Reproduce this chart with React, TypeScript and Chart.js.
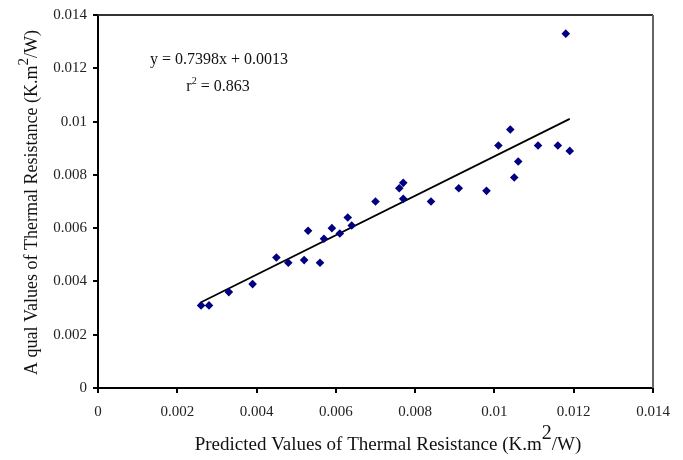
import React, { useEffect, useRef } from "react";
import { Chart, registerables } from "chart.js";

Chart.register(...registerables);

const predicted = [
  0.0026, 0.0028, 0.0033, 0.0039, 0.0045, 0.0048, 0.0052, 0.0056, 0.0053, 0.0057,
  0.0059, 0.0061, 0.0063, 0.0064, 0.0070, 0.0076, 0.0077, 0.0077, 0.0084, 0.0091,
  0.0098, 0.0101, 0.0104, 0.0105, 0.0106, 0.0111, 0.0116, 0.0118, 0.0119,
];
const actual = [
  0.0031, 0.0031, 0.0036, 0.0039, 0.0049, 0.0047, 0.0048, 0.0047, 0.0059, 0.0056,
  0.0060, 0.0058, 0.0064, 0.0061, 0.0070, 0.0075, 0.0077, 0.0071, 0.0070, 0.0075,
  0.0074, 0.0091, 0.0097, 0.0079, 0.0085, 0.0091, 0.0091, 0.0133, 0.0089,
];
const trendX = [0.0026, 0.0119];
const trendY = [0.00322, 0.0101];
const axisMin = 0;
const axisMax = 0.014;
const axisStep = 0.002;

const equationText = "y = 0.7398x + 0.0013";
const rSquaredLabel = ["r", "2", " = 0.863"];
const xTitleParts = ["Predicted Values of Thermal Resistance (K.m", "2", "/W)"];
const yTitleParts = ["A qual Values of Thermal Resistance (K.m", "2", "/W)"];

const FONT = "'Liberation Serif', 'Times New Roman', serif";

type Seg = { t: string; sup?: boolean };

function drawSegs(
  ctx: CanvasRenderingContext2D,
  segs: Seg[],
  cx: number,
  baseline: number,
  size: number,
  supSize: number,
  raise: number
) {
  const widths = segs.map((s) => {
    ctx.font = `${s.sup ? supSize : size}px ${FONT}`;
    return ctx.measureText(s.t).width;
  });
  const total = widths.reduce((a, b) => a + b, 0);
  let x = cx - total / 2;
  ctx.textAlign = "left";
  ctx.textBaseline = "alphabetic";
  segs.forEach((s, i) => {
    ctx.font = `${s.sup ? supSize : size}px ${FONT}`;
    ctx.fillText(s.t, x, s.sup ? baseline - raise : baseline);
    x += widths[i];
  });
}

const decorPlugin = {
  id: "decor",
  afterDraw(chart: any) {
    const ctx: CanvasRenderingContext2D = chart.ctx;
    const a = chart.chartArea;
    ctx.save();
    ctx.lineWidth = 2;
    ctx.strokeStyle = "#333";
    ctx.beginPath();
    ctx.moveTo(a.left, a.top);
    ctx.lineTo(a.right, a.top);
    ctx.stroke();
    ctx.strokeStyle = "#666";
    ctx.beginPath();
    ctx.moveTo(a.right, a.top);
    ctx.lineTo(a.right, a.bottom);
    ctx.stroke();

    ctx.fillStyle = "#111";
    drawSegs(ctx, [{ t: equationText }], 219, 64, 16, 10, 6);
    drawSegs(
      ctx,
      [{ t: rSquaredLabel[0] }, { t: rSquaredLabel[1], sup: true }, { t: rSquaredLabel[2] }],
      218,
      91,
      16,
      10,
      7
    );
    drawSegs(
      ctx,
      [{ t: xTitleParts[0] }, { t: xTitleParts[1], sup: true }, { t: xTitleParts[2] }],
      388,
      450,
      19,
      20,
      11
    );
    ctx.save();
    ctx.translate(37, (a.top + a.bottom) / 2 + 1);
    ctx.rotate(-Math.PI / 2);
    drawSegs(
      ctx,
      [{ t: yTitleParts[0] }, { t: yTitleParts[1], sup: true }, { t: yTitleParts[2] }],
      0,
      0,
      18,
      15,
      9
    );
    ctx.restore();
    ctx.restore();
  },
};

const fmt = (v: any) => Number(Number(v).toFixed(3)).toString();

export default function App() {
  const ref = useRef<HTMLCanvasElement | null>(null);
  useEffect(() => {
    document.body.style.margin = "0";
    const canvas = ref.current!;
    const points = predicted.map((x, i) => ({ x, y: actual[i] }));
    const trend = trendX.map((x, i) => ({ x, y: trendY[i] }));
    const tickFont = { family: FONT, size: 15 };
    const chart = new Chart(canvas, {
      type: "scatter",
      data: {
        datasets: [
          {
            data: trend,
            showLine: true,
            borderColor: "#000",
            borderWidth: 1.8,
            pointRadius: 0,
            order: 1,
          } as any,
          {
            data: points,
            pointStyle: "rectRot",
            pointRadius: 4.3,
            backgroundColor: "#000080",
            borderColor: "#000080",
            borderWidth: 0,
            order: 0,
          },
        ],
      },
      options: {
        animation: false,
        responsive: false,
        devicePixelRatio: 1,
        layout: { padding: { left: 0, top: 14, right: 30, bottom: 0 } },
        plugins: { legend: { display: false }, tooltip: { enabled: false } },
        scales: {
          x: {
            type: "linear",
            min: axisMin,
            max: axisMax,
            ticks: { stepSize: axisStep, callback: fmt, font: tickFont, color: "#222", padding: 10, maxRotation: 0 },
            grid: { drawOnChartArea: false, drawTicks: true, tickLength: 5, color: "#000", lineWidth: 2 },
            border: { color: "#000", width: 2 },
            afterFit: (s: any) => {
              s.height = 72;
            },
          },
          y: {
            type: "linear",
            min: axisMin,
            max: axisMax,
            ticks: { stepSize: axisStep, callback: fmt, font: tickFont, color: "#222", padding: 6 },
            grid: { drawOnChartArea: false, drawTicks: true, tickLength: 5, color: "#000", lineWidth: 2 },
            border: { color: "#000", width: 2 },
            afterFit: (s: any) => {
              s.width = 98;
            },
          },
        },
      },
      plugins: [decorPlugin],
    });
    return () => chart.destroy();
  }, []);
  return (
    <div style={{ width: 683, height: 460, background: "#fff" }}>
      <canvas ref={ref} width={683} height={460} style={{ width: 683, height: 460, display: "block" }} />
    </div>
  );
}
